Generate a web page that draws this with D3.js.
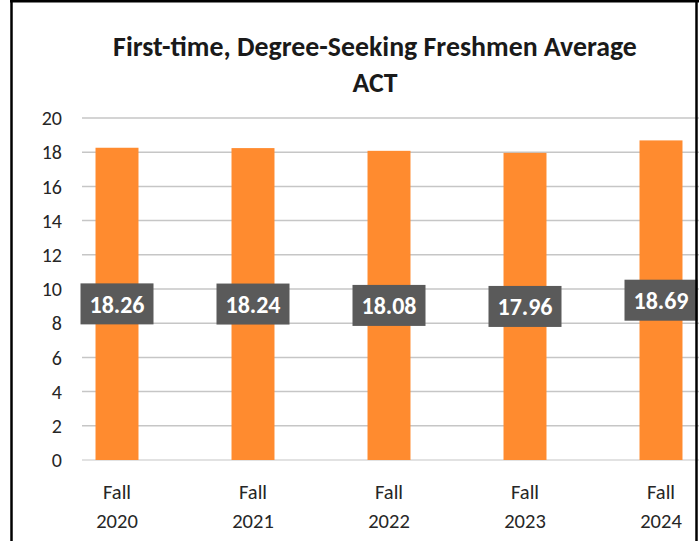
<!DOCTYPE html>
<html><head><meta charset="utf-8">
<script src="https://cdn.jsdelivr.net/npm/d3@7"></script>
<style>body{margin:0;background:#fff}svg{display:block}</style>
</head><body>
<script>
const categories = ["Fall 2020","Fall 2021","Fall 2022","Fall 2023","Fall 2024"];
const values = [18.26, 18.24, 18.08, 17.96, 18.69];
const yTicks = [0,2,4,6,8,10,12,14,16,18,20];
const titleLines = ["First-time, Degree-Seeking Freshmen Average","ACT"];

const W = 699, H = 541;
const FONT = "Carlito, Calibri, Lato, sans-serif";
const svg = d3.select("body").append("svg").attr("width", W).attr("height", H);
svg.append("rect").attr("width", W).attr("height", H).attr("fill", "#fff");

const x = d3.scaleBand().domain(categories).range([49, 729]).paddingInner(0.684).paddingOuter(0.342);
const y = d3.scaleLinear().domain([0, 20]).range([460, 118]);

// gridlines
svg.append("g").selectAll("line").data(yTicks).join("line")
  .attr("x1", 82).attr("x2", W).attr("y1", d => y(d)).attr("y2", d => y(d))
  .attr("stroke", d => d === 0 ? "#d9d9d9" : "#c6c6c6").attr("stroke-width", 1.5);

// y tick labels
svg.append("g").selectAll("text").data(yTicks).join("text")
  .attr("x", 62).attr("y", d => y(d)).attr("dy", "0.36em").attr("text-anchor", "end")
  .attr("font-family", FONT).attr("font-size", 20).attr("fill", "#262626").text(d => d);

// bars
svg.append("g").selectAll("rect").data(values).join("rect")
  .attr("x", (d, i) => x(categories[i])).attr("width", x.bandwidth())
  .attr("y", d => y(d)).attr("height", d => y(0) - y(d)).attr("fill", "#ff8b2f");

// category labels
const cat = svg.append("g").selectAll("text").data(categories).join("text")
  .attr("text-anchor", "middle").attr("font-family", FONT).attr("font-size", 20.5).attr("fill", "#262626");
cat.each(function(d) {
  const parts = d.split(" ");
  const cx = x(d) + x.bandwidth() / 2;
  d3.select(this).selectAll("tspan").data(parts).join("tspan")
    .attr("x", cx).attr("y", (p, j) => 499 + j * 29).text(p => p);
});

// data labels
const lab = svg.append("g").selectAll("g").data(values).join("g")
  .attr("transform", (d, i) => `translate(${x(categories[i]) + x.bandwidth() / 2},${y(d / 2)})`);
lab.append("rect").attr("x", -36.5).attr("y", -20.5).attr("width", 73).attr("height", 41).attr("fill", "#5a5a5a");
lab.append("text").attr("text-anchor", "middle").attr("dy", "0.36em")
  .attr("font-family", FONT).attr("font-weight", "bold").attr("font-size", 24).attr("fill", "#fff")
  .text(d => d.toFixed(2));

// title
const t = svg.append("text").attr("text-anchor", "middle").attr("font-family", FONT)
  .attr("font-weight", "bold").attr("font-size", 24).attr("fill", "#1a1a1a");
t.selectAll("tspan").data(titleLines).join("tspan")
  .attr("x", 375).attr("y", (d, i) => 56 + i * 36).text(d => d);
const len = t.select("tspan").node().getComputedTextLength();
t.attr("font-size", 24 * 524 / len);

// borders
svg.append("line").attr("x1", 11.5).attr("x2", 11.5).attr("y1", 0).attr("y2", H).attr("stroke", "#000").attr("stroke-width", 2.5);
svg.append("line").attr("x1", 10).attr("x2", W).attr("y1", 1.2).attr("y2", 1.2).attr("stroke", "#000").attr("stroke-width", 2.5);
svg.append("line").attr("x1", 696.5).attr("x2", 696.5).attr("y1", 0).attr("y2", H).attr("stroke", "#000").attr("stroke-width", 2.5);
</script>
</body></html>
